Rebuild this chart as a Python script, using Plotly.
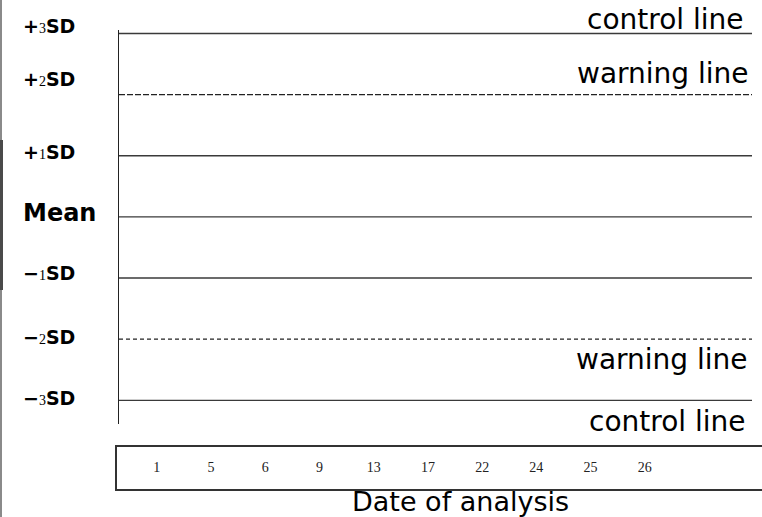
import plotly.graph_objects as go

# ---- data ----
sd_levels = [3, 2, 1, 0, -1, -2, -3]
sd_signs = ["+", "+", "+", "", "\u2212", "\u2212", "\u2212"]
sd_digits = ["3", "2", "1", "", "1", "2", "3"]
line_kinds = ["control", "warning", "plain", "plain", "plain", "warning", "control"]
dates = ["1", "5", "6", "9", "13", "17", "22", "24", "25", "26"]
x_title = "Date of analysis"

W, H = 762, 517
FONT = "DejaVu Sans, Open Sans, sans-serif"
SERIF = "Liberation Serif, Times New Roman, serif"

fig = go.Figure()
fig.add_trace(go.Scatter(x=[], y=[], xaxis="x", yaxis="y", showlegend=False))

for lvl, kind in zip(sd_levels, line_kinds):
    if kind == "warning":
        dash = "6px,2px" if lvl > 0 else "4px,3px"
        st = dict(color="#222222", width=1.2, dash=dash)
    else:
        st = dict(color="#3a3a3a", width=1.4, dash="solid")
    fig.add_hline(y=lvl, line=st, layer="above")

# left labels
label_py = {3: 26, 2: 79, 1: 152, 0: 213, -1: 273, -2: 337, -3: 398}
for lvl, sgn, dg in zip(sd_levels, sd_signs, sd_digits):
    if lvl == 0:
        txt = "Mean"
        size = 24
    else:
        txt = (f"{sgn}<span style='font-family:{SERIF};"
               f"font-size:14px;font-weight:normal'>{dg}</span>SD")
        size = 19
    fig.add_annotation(
        x=21 / W, y=1 - label_py[lvl] / H, xref="paper", yref="paper",
        xanchor="left", yanchor="middle", text=txt, showarrow=False,
        font=dict(family=FONT, size=size, color="black", weight="bold"),
    )

# right labels
right_labels = [("control line", 20, 746), ("warning line", 74, 751),
                ("warning line", 359, 750), ("control line", 421, 748)]
for txt, py, rx in right_labels:
    fig.add_annotation(
        x=rx / W, y=1 - py / H, xref="paper", yref="paper",
        xanchor="right", yanchor="middle", text=txt, showarrow=False,
        font=dict(family=FONT, size=28, color="black"),
    )

# date box
fig.add_trace(go.Scatter(
    x=dates, y=[0] * len(dates), xaxis="x2", yaxis="y2", mode="text",
    text=dates, textposition="middle center", showlegend=False,
    textfont=dict(family=SERIF, size=14, color="#222222"),
    hoverinfo="skip",
))

fig.add_annotation(
    x=460 / W, y=1 - 501 / H, xref="paper", yref="paper",
    xanchor="center", yanchor="middle", text=x_title, showarrow=False,
    font=dict(family=FONT, size=27, color="black"),
)

# left edge strip
fig.add_shape(type="rect", xref="paper", yref="paper", x0=0, x1=2 / W, y0=0, y1=1,
              fillcolor="#8a8a8a", line_width=0, layer="below")
fig.add_shape(type="rect", xref="paper", yref="paper", x0=0, x1=3 / W,
              y0=1 - 290 / H, y1=1 - 140 / H,
              fillcolor="#4a4a4a", line_width=0, layer="below")

fig.update_layout(
    width=W, height=H, autosize=False,
    margin=dict(l=0, r=0, t=0, b=0),
    paper_bgcolor="white", plot_bgcolor="rgba(0,0,0,0)",
    xaxis=dict(domain=[119 / W, 752 / W], range=[0, 1], visible=False, fixedrange=True),
    yaxis=dict(domain=[1 - 424 / H, 1 - 30 / H], range=[-3.387, 3.057],
               showline=True, linecolor="#222222", linewidth=1.4,
               showgrid=False, zeroline=False, showticklabels=False, ticks="",
               fixedrange=True),
    xaxis2=dict(domain=[117 / W, 1], range=[-0.732, 11.16], type="category",
                categoryorder="array", categoryarray=dates, anchor="y2",
                showline=True, mirror=True, linecolor="#333333", linewidth=1.5,
                showgrid=False, zeroline=False, showticklabels=False, ticks="",
                fixedrange=True),
    yaxis2=dict(domain=[1 - 489 / H, 1 - 447 / H], range=[-1, 1], anchor="x2",
                showline=True, mirror=False, linecolor="#333333", linewidth=1.5,
                showgrid=False, zeroline=False, showticklabels=False, ticks="",
                fixedrange=True),
)

fig.write_html(
    "out.html",
    config={"displayModeBar": False},
    post_script="document.body.style.margin='0';document.body.style.overflow='hidden';",
)
